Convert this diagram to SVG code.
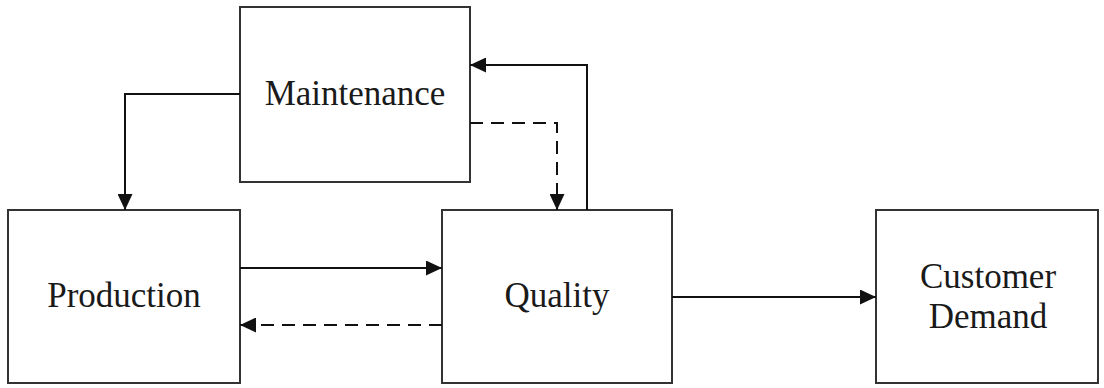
<svg xmlns="http://www.w3.org/2000/svg" width="1104" height="388" viewBox="0 0 1104 388">
<style>
.box{fill:#fff;stroke:#333;stroke-width:2}
.lbl{font-family:"Liberation Serif","Times New Roman",serif;font-size:35px;fill:#1a1a1a;text-anchor:middle}
.ln{fill:none;stroke:#111;stroke-width:2}
.dash{stroke-dasharray:13 8}
</style>
<defs>
<marker id="ah" markerUnits="userSpaceOnUse" markerWidth="17" markerHeight="15" refX="16" refY="7.5" orient="auto">
<path d="M0,0 L16,7.5 L0,15 Z" fill="#111"/>
</marker>
</defs>
<rect width="1104" height="388" fill="#fff"/>
<g id="maintenance"><rect class="box" x="240" y="7" width="230" height="175"/><text class="lbl" x="355" y="105">Maintenance</text></g>
<g id="production"><rect class="box" x="8" y="210" width="232" height="173"/><text class="lbl" x="124" y="307">Production</text></g>
<g id="quality"><rect class="box" x="442" y="210" width="230" height="173"/><text class="lbl" x="557" y="307">Quality</text></g>
<g id="customer"><rect class="box" x="876" y="210" width="222" height="173"/><text class="lbl" x="988" y="288">Customer</text><text class="lbl" x="988" y="328">Demand</text></g>
<g id="connectors">
<path class="ln" d="M240,94 H125 V210" marker-end="url(#ah)"/>
<path class="ln" d="M240,268 H442" marker-end="url(#ah)"/>
<path class="ln dash" d="M442,325 H240" marker-end="url(#ah)"/>
<path class="ln" d="M672,297 H876" marker-end="url(#ah)"/>
<path class="ln" d="M587,210 V65 H470" marker-end="url(#ah)"/>
<path class="ln dash" d="M470,123 H557 V210" marker-end="url(#ah)"/>
</g>
</svg>
